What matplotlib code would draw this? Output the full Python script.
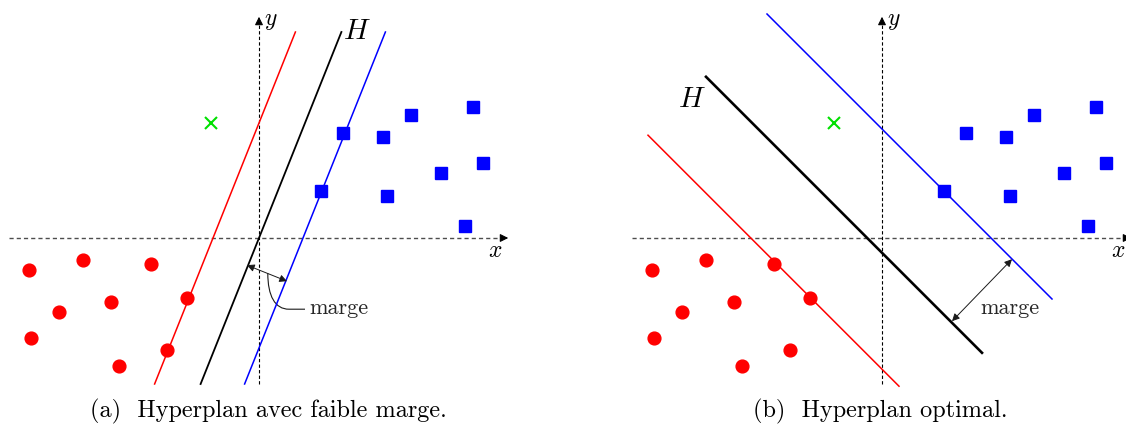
import matplotlib
matplotlib.use("Agg")
import matplotlib.pyplot as plt
import numpy as np
from matplotlib.path import Path
from matplotlib.patches import PathPatch

plt.rcParams['mathtext.fontset'] = 'cm'
plt.rcParams['font.family'] = ['cmr10', 'DejaVu Serif']
plt.rcParams['axes.formatter.use_mathtext'] = True

# données (mêmes points dans les deux figures)
red_x = [-5.75, -4.4, -2.7, -5.0, -3.7, -5.7, -3.5, -1.8, -2.3]
red_y = [-0.8, -0.55, -0.65, -1.85, -1.6, -2.5, -3.2, -1.5, -2.8]
blue_x = [2.1, 1.55, 3.1, 3.8, 5.35, 4.55, 5.6, 3.2, 5.15]
blue_y = [2.63, 1.18, 2.53, 3.08, 3.28, 1.63, 1.88, 1.05, 0.3]
new_x, new_y = -1.2, 2.88

# (a) hyperplans x = x0 + y/2.5
a_slope = 2.5
a_x0 = {'red': -1.15, 'black': 0.0, 'blue': 1.1}
a_yrange = (-3.65, 5.15)

# (b) hyperplans y = -x + b
b_b = {'red': -3.28, 'black': -0.37, 'blue': 2.725}
b_xrange = {'red': (-5.85, 0.425), 'black': (-4.4, 2.5), 'blue': (-2.875, 4.25)}

captions = ['(a)  Hyperplan avec faible marge.', '(b)  Hyperplan optimal.']

fig = plt.figure(figsize=(11.26, 4.25), dpi=100)
ax1 = fig.add_axes([0, 0, 0.5, 1])
ax2 = fig.add_axes([0.5, 0, 0.5, 1])
ax1.set_xlim(-6.475, 7.6)
ax2.set_xlim(-7.975, 6.1)


def repere(ax):
    ax.set_ylim(-4.675, 5.95)
    ax.axis('off')
    ax.plot([-6.25, 6.2], [0, 0], color='0.3', lw=1.0, dashes=(3, 2.2))
    ax.plot([0, 0], [-3.65, 5.5], color='black', lw=0.8, dashes=(3, 2))
    ax.annotate('', xy=(6.3, 0), xytext=(6.0, 0), annotation_clip=False,
                arrowprops=dict(arrowstyle='-|>', color='black', lw=0.8, mutation_scale=12))
    ax.annotate('', xy=(0, 5.6), xytext=(0, 5.3), annotation_clip=False,
                arrowprops=dict(arrowstyle='-|>', color='black', lw=0.8, mutation_scale=12))
    ax.text(5.9, -0.33, '$x$', fontsize=17, ha='center', va='center')
    ax.text(0.3, 5.42, '$y$', fontsize=17, ha='center', va='center')
    ax.plot(red_x, red_y, 'o', color='red', ms=9.2, zorder=5)
    ax.plot(blue_x, blue_y, 's', color='blue', ms=9, zorder=5)
    ax.plot(new_x, new_y, 'x', color='#00e000', ms=8, mew=1.5, zorder=5)


repere(ax1)
repere(ax2)

# (a)
yy = np.array(a_yrange)
for c, x0 in a_x0.items():
    ax1.plot(x0 + yy / a_slope, yy, color=c, lw=1.3 if c == 'black' else 1.1)
ax1.text(2.45, 5.15, '$H$', fontsize=21, ha='center', va='center')
ax1.annotate('', xy=(-0.3, -0.68), xytext=(0.7, -1.08),
             arrowprops=dict(arrowstyle='<|-|>', color='0.1', lw=0.7, mutation_scale=11,
                             shrinkA=0, shrinkB=0))
verts = [(0.22, -0.88), (0.22, -1.45), (0.4, -1.78), (0.75, -1.78), (1.15, -1.78)]
codes = [Path.MOVETO, Path.CURVE4, Path.CURVE4, Path.CURVE4, Path.LINETO]
ax1.add_patch(PathPatch(Path(verts, codes), fc='none', ec='0.1', lw=0.8))
ax1.text(1.25, -1.75, 'marge', fontsize=16, ha='left', va='center', color='0.15')

# (b)
for c, b in b_b.items():
    xx = np.array(b_xrange[c])
    ax2.plot(xx, -xx + b, color=c, lw=1.9 if c == 'black' else 1.1)
ax2.text(-4.75, 3.45, '$H$', fontsize=21, ha='center', va='center')
ax2.annotate('', xy=(1.75, -2.08), xytext=(3.25, -0.53),
             arrowprops=dict(arrowstyle='<|-|>', color='0.1', lw=0.7, mutation_scale=11,
                             shrinkA=0, shrinkB=0))
ax2.text(2.45, -1.75, 'marge', fontsize=16, ha='left', va='center', color='0.15')

fig.text(268 / 1126, 1 - 411 / 425, captions[0], fontsize=17.5, ha='center', va='center')
fig.text(880 / 1126, 1 - 411 / 425, captions[1], fontsize=17.5, ha='center', va='center')

fig.savefig('out.png', dpi=100)
